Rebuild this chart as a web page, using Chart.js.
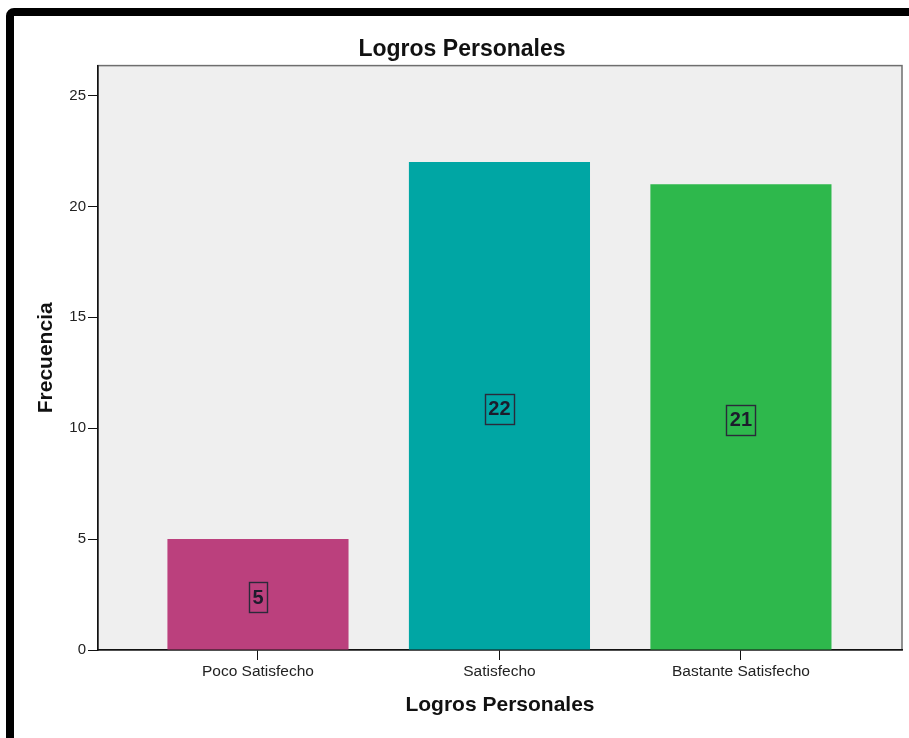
<!DOCTYPE html>
<html>
<head>
<meta charset="utf-8">
<script src="https://cdn.jsdelivr.net/npm/chart.js@4.4.1/dist/chart.umd.min.js"></script>
<style>
    body { margin: 0; background: #fff; overflow: hidden; }
    .frame {
        position: absolute; left: 6px; top: 8px;
        width: 930px; height: 740px;
        border: 8px solid #000; border-radius: 8px;
    }
    .wrap { position: absolute; left: 0; top: 0; width: 909px; height: 738px; }
</style>
</head>
<body>
<div class="frame"></div>
<div class="wrap"><canvas id="chart" width="909" height="738"></canvas></div>
<script>
const categories = ["Poco Satisfecho", "Satisfecho", "Bastante Satisfecho"];
const frecuencias = [5, 22, 21];
const barColors = ["#bb407d", "#00a6a4", "#2eb84c"];
const yTicks = [0, 5, 10, 15, 20, 25];

const font = "'Liberation Sans', Arial, sans-serif";

// plot background and frame
const plotFrame = {
    id: "plotFrame",
    beforeDraw(chart) {
        const { ctx, chartArea: a } = chart;
        ctx.save();
        ctx.fillStyle = "#efefef";
        ctx.fillRect(a.left, a.top, a.right - a.left, a.bottom - a.top);
        ctx.strokeStyle = "#6e6e6e";
        ctx.lineWidth = 1.5;
        ctx.strokeRect(a.left, a.top, a.right - a.left, a.bottom - a.top);
        ctx.restore();
    }
};

// boxed value labels in the middle of each bar
const boxedLabels = {
    id: "boxedLabels",
    afterDatasetsDraw(chart) {
        const { ctx } = chart;
        const meta = chart.getDatasetMeta(0);
        ctx.save();
        ctx.font = "bold 20px 'Liberation Sans Narrow', 'Liberation Sans', Arial, sans-serif";
        ctx.textAlign = "center";
        ctx.textBaseline = "middle";
        meta.data.forEach((bar, i) => {
            const text = String(frecuencias[i]);
            const cy = (bar.y + bar.base) / 2 + 3;
            const w = ctx.measureText(text).width + 7;
            const h = 30;
            ctx.fillStyle = "#1c1c2c";
            ctx.fillText(text, bar.x, cy + 1);
            ctx.strokeStyle = "#2a2a3a";
            ctx.lineWidth = 1.4;
            ctx.strokeRect(Math.round(bar.x - w / 2) + 0.5, Math.round(cy - h / 2) + 0.5, Math.round(w), h);
        });
        ctx.restore();
    }
};

new Chart(document.getElementById("chart"), {
    type: "bar",
    data: {
        datasets: [{
            data: frecuencias.map((v, i) => ({ x: i, y: v })),
            backgroundColor: barColors,
            borderWidth: 0,
            barPercentage: 0.75,
            categoryPercentage: 1
        }]
    },
    options: {
        responsive: false,
        animation: false,
        layout: { padding: { left: 22, right: 7, top: 0, bottom: 0 } },
        plugins: {
            legend: { display: false },
            tooltip: { enabled: false },
            title: {
                display: true,
                text: "Logros Personales",
                color: "#111",
                font: { family: font, size: 23, weight: "bold" },
                padding: { top: 36, bottom: 2 }
            }
        },
        scales: {
            x: {
                type: "linear",
                offset: false,
                min: -0.6625,
                max: 2.667,
                afterBuildTicks: (s) => { s.ticks = categories.map((c, i) => ({ value: i })); },
                afterFit: (s) => { s.height = 88; },
                grid: { display: true, offset: false, drawOnChartArea: false, color: "#111", tickLength: 10, tickWidth: 1 },
                border: { display: true, color: "#111", width: 1.5 },
                ticks: {
                    autoSkip: false,
                    maxRotation: 0,
                    padding: 2,
                    color: "#222",
                    font: { family: font, size: 15.5 },
                    callback: (v) => categories[v]
                },
                title: {
                    display: true,
                    text: "Logros Personales",
                    color: "#111",
                    font: { family: font, size: 21, weight: "bold" },
                    padding: { top: 4, bottom: 20 }
                }
            },
            y: {
                min: 0,
                max: 26.35,
                afterBuildTicks: (s) => { s.ticks = yTicks.map((v) => ({ value: v })); },
                afterFit: (s) => { s.width = 76; },
                grid: { display: true, drawOnChartArea: false, color: "#111", tickLength: 10, tickWidth: 1 },
                border: { display: true, color: "#111", width: 1.5 },
                ticks: {
                    padding: 2,
                    color: "#222",
                    font: { family: font, size: 15 }
                },
                title: {
                    display: true,
                    text: "Frecuencia",
                    color: "#111",
                    font: { family: font, size: 21, weight: "bold" },
                    padding: { top: 12, bottom: 10 }
                }
            }
        }
    },
    plugins: [plotFrame, boxedLabels]
});
</script>
</body>
</html>
